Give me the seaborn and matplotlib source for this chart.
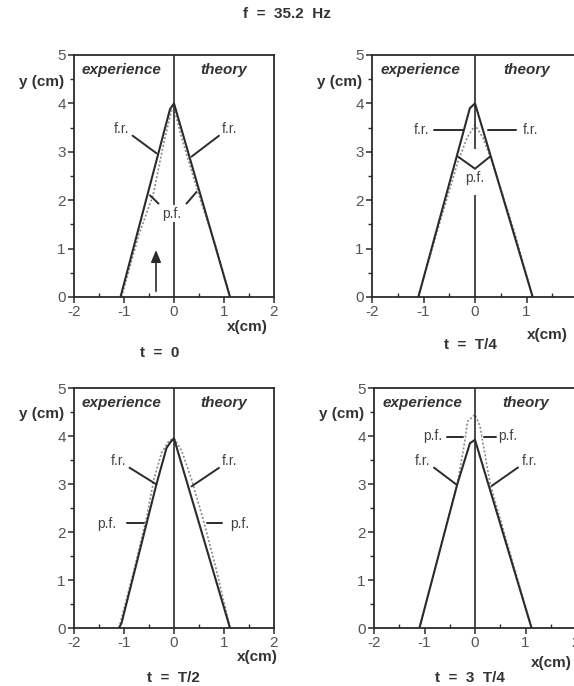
import numpy as np
import pandas as pd
import matplotlib
matplotlib.use("Agg")
import matplotlib.pyplot as plt
import seaborn as sns

sns.set_theme(style="ticks")
plt.rcParams["font.family"] = ["Liberation Sans", "DejaVu Sans"]

# free surface at rest (f.r.) and free surface in motion (p.f.), per phase
FR_X_T0 = [-1.07, -0.08, 0.0, 1.12]
FR_Y_T0 = [0.0, 3.88, 4.0, 0.0]
PF_X_T0 = [-1.05, -0.7, -0.42, -0.2, -0.05, 0.0, 0.15, 0.5, 0.85, 1.12]
PF_Y_T0 = [0.0, 1.3, 2.1, 3.2, 3.85, 3.9, 3.3, 2.1, 1.0, 0.0]

FR_X_T4 = [-1.1, -0.1, 0.0, 1.12]
FR_Y_T4 = [0.0, 3.9, 4.0, 0.0]
PF_X_T4 = [-1.1, -0.75, -0.33, -0.15, 0.0, 0.15, 0.33, 0.75, 1.12]
PF_Y_T4 = [0.0, 1.3, 2.8, 3.3, 3.55, 3.3, 2.8, 1.4, 0.0]

FR_X_T2 = [-1.1, -1.05, -0.35, -0.15, -0.05, 0.0, 1.12]
FR_Y_T2 = [0.0, 0.1, 3.0, 3.75, 3.9, 3.95, 0.0]
PF_X_T2 = [-1.1, -0.8, -0.55, -0.4, -0.25, -0.1, 0.0, 0.15, 0.35, 0.6, 0.85, 1.12]
PF_Y_T2 = [0.0, 1.2, 2.3, 3.1, 3.65, 3.9, 3.95, 3.7, 3.1, 2.2, 1.2, 0.0]

FR_X_T34 = [-1.1, -0.35, -0.1, 0.0, 1.12]
FR_Y_T34 = [0.0, 3.0, 3.85, 3.92, 0.0]
PF_X_T34 = [-1.1, -0.35, -0.2, -0.15, -0.05, 0.0, 0.1, 0.3, 1.12]
PF_Y_T34 = [0.0, 3.0, 3.9, 4.3, 4.4, 4.45, 4.2, 3.0, 0.0]

TIME_LABELS = ["t  =  0", "t  =  T/4", "t  =  T/2", "t  =  3  T/4"]
TITLE = "f  =  35.2  Hz"

W, H = 574, 686
fig = plt.figure(figsize=(W / 100, H / 100), dpi=100)
fig.patch.set_facecolor("white")

# axes boxes in pixels: left, top, right, bottom
boxes = [(74, 55, 274, 297), (372, 55, 578, 297),
         (74, 388, 274, 628), (374, 388, 576, 628)]

curves = [(FR_X_T0, FR_Y_T0, PF_X_T0, PF_Y_T0),
          (FR_X_T4, FR_Y_T4, PF_X_T4, PF_Y_T4),
          (FR_X_T2, FR_Y_T2, PF_X_T2, PF_Y_T2),
          (FR_X_T34, FR_Y_T34, PF_X_T34, PF_Y_T34)]

# gaps in the x=0 line (behind the p.f. label)
vgaps = [(1.55, 1.9), (2.1, 3.05), None, None]
xlab_pos = [(247, 327), (547, 335), (257, 657), (551, 663)]
tlab_pos = [(160, 353), (470, 345), (173, 678), (470, 678)]

ink = "#2b2b2b"
grey = "#8a8a8a"
lab_kw = dict(fontsize=10, color="#444444")
line_kw = dict(arrowstyle="-", color=ink, lw=1.4, shrinkA=0, shrinkB=0)

axes = []
for i, (l, t, r, b) in enumerate(boxes):
    ax = fig.add_axes([l / W, 1 - b / H, (r - l) / W, (b - t) / H])
    axes.append(ax)
    fx, fy, px, py = curves[i]
    fr = pd.DataFrame({"x": fx, "y": fy})
    pf = pd.DataFrame({"x": px, "y": py})
    sns.lineplot(data=pf, x="x", y="y", sort=False, estimator=None, ax=ax,
                 color=grey, lw=1.2, linestyle=(0, (1.2, 1.2)))
    sns.lineplot(data=fr, x="x", y="y", sort=False, estimator=None, ax=ax,
                 color=ink, lw=1.5)

    if vgaps[i] is None:
        ax.vlines(0, 0, 5, color=ink, lw=1.2)
    else:
        ax.vlines([0, 0], [0, vgaps[i][1]], [vgaps[i][0], 5], color=ink, lw=1.2)

    ax.set_xlim(-2, 2)
    ax.set_ylim(0, 5)
    ax.set_xticks([-2, -1, 0, 1, 2])
    ax.set_yticks([0, 1, 2, 3, 4, 5])
    ax.set_xticks([-1.5, -0.5, 0.5, 1.5], minor=True)
    ax.set_yticks([0.5, 1.5, 2.5, 3.5, 4.5], minor=True)
    ax.set_xticklabels(["-2", "-1", "0", "1", "2"])
    ax.set_xlabel("")
    ax.set_ylabel("")
    for s in ax.spines.values():
        s.set_color(ink)
        s.set_linewidth(1.3)
    ax.tick_params(axis="both", which="major", direction="out", length=4,
                   width=1.1, color=ink, labelsize=11, labelcolor="#555555", pad=2)
    ax.tick_params(axis="x", which="minor", direction="in", length=3,
                   width=1.0, color=ink)
    ax.tick_params(axis="y", which="minor", direction="out", length=3,
                   width=1.0, color=ink)

    ax.text(-1.05, 4.68, "experience", ha="center", va="center", fontsize=11,
            fontweight="bold", fontstyle="italic", color="#333333")
    ax.text(1.0, 4.68, "theory", ha="center", va="center", fontsize=11,
            fontweight="bold", fontstyle="italic", color="#333333")
    ax.text(-0.05, 4.45, "y (cm)", transform=ax.get_yaxis_transform(),
            ha="right", va="center", fontsize=11, fontweight="bold", color="#333333")

    fig.text(xlab_pos[i][0] / W, 1 - xlab_pos[i][1] / H, "x(cm)", ha="center",
             va="center", fontsize=11, fontweight="bold", color="#333333")
    fig.text(tlab_pos[i][0] / W, 1 - tlab_pos[i][1] / H, TIME_LABELS[i],
             ha="center", va="center", fontsize=11, fontweight="bold", color="#333333")

fig.text(287 / W, 1 - 14 / H, TITLE, ha="center", va="center", fontsize=11,
         fontweight="bold", color="#333333")

# t = 0 annotations
ax = axes[0]
ax.annotate("f.r.", xy=(-0.35, 2.97), xytext=(-1.05, 3.47), ha="center",
            va="center", arrowprops=dict(line_kw, relpos=(1.0, 0.2)), **lab_kw)
ax.annotate("f.r.", xy=(0.35, 2.9), xytext=(1.12, 3.47), ha="center",
            va="center", arrowprops=dict(line_kw, relpos=(0.0, 0.2)), **lab_kw)
ax.text(-0.05, 1.72, "p.f.", ha="center", va="center", **lab_kw)
ax.plot([-0.31, -0.48], [1.93, 2.1], color=ink, lw=1.4)
ax.plot([0.25, 0.45], [1.93, 2.17], color=ink, lw=1.4)
ax.annotate("", xy=(-0.36, 0.97), xytext=(-0.36, 0.12),
            arrowprops=dict(arrowstyle="-|>,head_length=0.6,head_width=0.25",
                            color=ink, lw=1.2, shrinkA=0, shrinkB=0))

# t = T/4
ax = axes[1]
ax.text(-1.04, 3.45, "f.r.", ha="center", va="center", **lab_kw)
ax.text(1.07, 3.45, "f.r.", ha="center", va="center", **lab_kw)
ax.plot([-0.8, -0.23], [3.45, 3.45], color=ink, lw=1.4)
ax.plot([0.25, 0.8], [3.45, 3.45], color=ink, lw=1.4)
ax.plot([-0.33, 0.0, 0.29], [2.9, 2.65, 2.9], color=ink, lw=1.4)
ax.text(0.0, 2.45, "p.f.", ha="center", va="center", **lab_kw)

# t = T/2
ax = axes[2]
ax.annotate("f.r.", xy=(-0.35, 2.99), xytext=(-1.11, 3.47), ha="center",
            va="center", arrowprops=dict(line_kw, relpos=(1.0, 0.2)), **lab_kw)
ax.annotate("f.r.", xy=(0.35, 2.95), xytext=(1.12, 3.47), ha="center",
            va="center", arrowprops=dict(line_kw, relpos=(0.0, 0.2)), **lab_kw)
ax.text(-1.35, 2.17, "p.f.", ha="center", va="center", **lab_kw)
ax.plot([-0.95, -0.61], [2.19, 2.19], color=ink, lw=1.4)
ax.text(1.32, 2.17, "p.f.", ha="center", va="center", **lab_kw)
ax.plot([0.65, 0.95], [2.19, 2.19], color=ink, lw=1.4)

# t = 3T/4
ax = axes[3]
ax.text(-0.83, 4.0, "p.f.", ha="center", va="center", **lab_kw)
ax.plot([-0.55, -0.23], [3.97, 3.97], color=ink, lw=1.4)
ax.text(0.45, 4.0, "p.f.", ha="left", va="center", **lab_kw)
ax.plot([0.18, 0.42], [3.97, 3.97], color=ink, lw=1.4)
ax.annotate("f.r.", xy=(-0.37, 2.99), xytext=(-1.03, 3.48), ha="center",
            va="center", arrowprops=dict(line_kw, relpos=(1.0, 0.2)), **lab_kw)
ax.annotate("f.r.", xy=(0.33, 2.96), xytext=(1.07, 3.48), ha="center",
            va="center", arrowprops=dict(line_kw, relpos=(0.0, 0.2)), **lab_kw)

fig.savefig("out.png", dpi=100, facecolor="white")
